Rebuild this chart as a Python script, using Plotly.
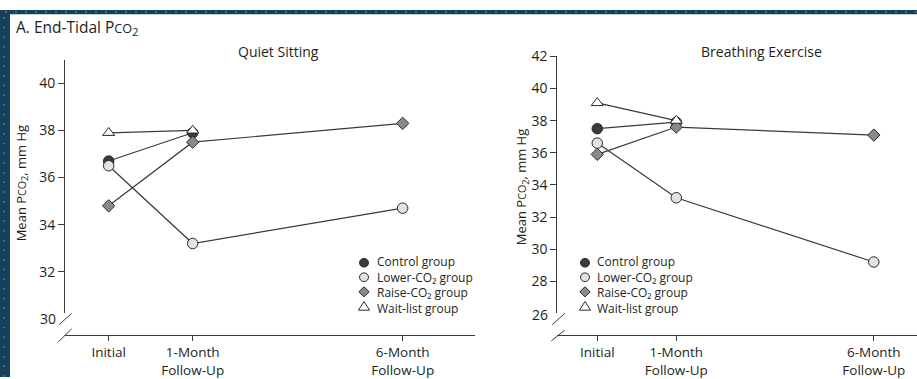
import plotly.graph_objects as go

W, H = 917, 379

# ---- data -------------------------------------------------------------
visits = ["Initial", "1-Month<br>Follow-Up", "6-Month<br>Follow-Up"]
visit_pos = [0, 1, 3.5]          # position of each visit on the time axis

groups = ["Control group", "Lower-CO\u2082 group",
          "Raise-CO\u2082 group", "Wait-list group"]

# Quiet sitting, mean end-tidal PCO2 (mm Hg)
quiet_control = [36.7, 37.9, None]
quiet_lower = [36.5, 33.2, 34.7]
quiet_raise = [34.8, 37.5, 38.3]
quiet_wait = [37.9, 38.0, None]

# Breathing exercise, mean end-tidal PCO2 (mm Hg)
breath_control = [37.5, 37.9, None]
breath_lower = [36.6, 33.2, 29.2]
breath_raise = [35.9, 37.6, 37.1]
breath_wait = [39.1, 38.0, None]

quiet_ticks = [32, 34, 36, 38, 40]
breath_ticks = [28, 30, 32, 34, 36, 38, 40, 42]

# ---- styling ----------------------------------------------------------
FONT = "Open Sans"
INK = "#231f20"
LINE = "#3a3a3a"
symbols = ["circle", "circle", "diamond", "triangle-up"]
fills = ["#3b3b3b", "#e2e2e2", "#8a8a8a", "#ffffff"]
sizes = [10.5, 10.5, 9.5, 10.5]


def px(x):
    return x / W


def py(y):
    return 1 - y / H


fig = go.Figure()

panels = [
    ("x", "y", [quiet_control, quiet_lower, quiet_raise, quiet_wait]),
    ("x2", "y2", [breath_control, breath_lower, breath_raise, breath_wait]),
]

# connecting lines first so every marker sits on top of them
for xa, ya, series in panels:
    for vals in series:
        fig.add_trace(go.Scatter(
            x=visit_pos, y=vals, xaxis=xa, yaxis=ya, mode="lines",
            line=dict(color=LINE, width=1.2), connectgaps=False,
            showlegend=False, hoverinfo="skip"))
for xa, ya, series in panels:
    for name, vals, sym, fc, sz in zip(groups, series, symbols, fills, sizes):
        fig.add_trace(go.Scatter(
            x=visit_pos, y=vals, xaxis=xa, yaxis=ya, mode="markers", name=name,
            marker=dict(symbol=sym, size=sz, color=fc,
                        line=dict(color="#2a2a2a", width=1)),
            showlegend=False))

tick_font = dict(family=FONT, size=14, color=INK)
xaxis_common = dict(
    anchor="free", position=py(335.7), showline=True, linecolor=LINE, linewidth=1,
    ticks="outside", ticklen=5, tickcolor=LINE, tickwidth=1,
    tickvals=visit_pos, ticktext=visits, showgrid=False, zeroline=False,
    tickfont=dict(family=FONT, size=13.5, color=INK), fixedrange=True)
yaxis_common = dict(
    showline=True, linecolor=LINE, linewidth=1, ticks="outside", ticklen=6,
    tickcolor=LINE, tickwidth=1, showgrid=False, zeroline=False,
    tickfont=tick_font, fixedrange=True)

fig.update_layout(
    width=W, height=H, autosize=False,
    margin=dict(l=0, r=0, t=0, b=0),
    paper_bgcolor="white", plot_bgcolor="white",
    font=dict(family=FONT, color=INK),
    xaxis=dict(domain=[px(65), px(475)], range=[-0.520, 4.361], **xaxis_common),
    yaxis=dict(domain=[py(313), py(52)], range=[30.247, 40.974], anchor="x",
               tickvals=quiet_ticks, **yaxis_common),
    xaxis2=dict(domain=[px(557.3), 1.0], range=[-0.506, 4.047], **xaxis_common),
    yaxis2=dict(domain=[py(313), py(47.7)], range=[26.02, 42.01], anchor="x2",
                tickvals=breath_ticks, **yaxis_common),
)

shapes = []
ann = []

# dark frame strips with their dotted texture
FRAME = "#17405e"
DOT = "#6686a0"
shapes.append(dict(type="rect", xref="paper", yref="paper", x0=0, x1=px(10),
                   y0=0, y1=1, fillcolor=FRAME, line=dict(width=0), layer="below"))
shapes.append(dict(type="rect", xref="paper", yref="paper", x0=0, x1=1,
                   y0=py(4.5), y1=1, fillcolor=FRAME, line=dict(width=0), layer="below"))
for yy in range(8, H, 10):
    shapes.append(dict(type="rect", xref="paper", yref="paper",
                       x0=px(3.5), x1=px(5), y0=py(yy + 0.75), y1=py(yy - 0.75),
                       fillcolor=DOT, line=dict(width=0)))
for xx in range(6, W, 10):
    shapes.append(dict(type="rect", xref="paper", yref="paper",
                       x0=px(xx - 0.75), x1=px(xx + 0.75), y0=py(2.75), y1=py(1.25),
                       fillcolor=DOT, line=dict(width=0)))

# axis-break slashes
for (x0, y0, x1, y1) in [(59, 325, 71.7, 313.3), (58.3, 342.7, 71.7, 329.3),
                         (552.3, 325, 564.7, 313.3), (551.3, 341.7, 564.7, 330.7)]:
    shapes.append(dict(type="line", xref="paper", yref="paper",
                       x0=px(x0), y0=py(y0), x1=px(x1), y1=py(y1),
                       line=dict(color=LINE, width=1)))

# lowest tick value sits at the break
ann.append(dict(x=px(57.5), y=py(318.3), text="30", showarrow=False,
                xanchor="right", yanchor="middle", font=tick_font,
                xref="paper", yref="paper"))
ann.append(dict(x=px(549.5), y=py(314), text="26", showarrow=False,
                xanchor="right", yanchor="middle", font=tick_font,
                xref="paper", yref="paper"))

# titles
pco2 = "P<span style='font-size:0.82em'>CO</span><sub>2</sub>"
ann.append(dict(x=px(14), y=py(18), text="A. End-Tidal " + pco2, showarrow=False,
                xanchor="left", yanchor="middle",
                font=dict(family=FONT, size=15.5, color=INK),
                xref="paper", yref="paper"))
ann.append(dict(x=px(278), y=py(43), text="Quiet Sitting", showarrow=False,
                xanchor="center", yanchor="middle",
                font=dict(family=FONT, size=14, color=INK),
                xref="paper", yref="paper"))
ann.append(dict(x=px(761), y=py(43), text="Breathing Exercise", showarrow=False,
                xanchor="center", yanchor="middle",
                font=dict(family=FONT, size=14, color=INK),
                xref="paper", yref="paper"))
for (cx, cy) in [(22, 179), (522, 183)]:
    ann.append(dict(x=px(cx), y=py(cy), text="Mean " + pco2 + ", mm Hg",
                    textangle=-90, showarrow=False, xanchor="center",
                    yanchor="middle", font=dict(family=FONT, size=13, color=INK),
                    xref="paper", yref="paper"))


# hand-set legend boxes (one per panel)
def legend_key(cx, cy, sym, fc):
    r = 4.5
    style = dict(xref="paper", yref="paper", fillcolor=fc,
                 line=dict(color="#2a2a2a", width=1))
    if sym == "circle":
        return dict(type="circle", x0=px(cx - r), x1=px(cx + r),
                    y0=py(cy + r), y1=py(cy - r), **style)
    if sym == "diamond":
        d = 5.2
        pts = [(cx, cy - d), (cx + d, cy), (cx, cy + d), (cx - d, cy)]
    else:
        pts = [(cx, cy - 5), (cx + 5.5, cy + 4), (cx - 5.5, cy + 4)]
    path = "M " + " L ".join(f"{px(a):.6f},{py(b):.6f}" for a, b in pts) + " Z"
    return dict(type="path", path=path, **style)


LEG_SIZE = 12
legend_rows = [261, 276, 291, 306]
legend_text = "<br>".join(groups)
for mx, tx in [(364, 375), (585, 595)]:
    for sym, fc, ry in zip(symbols, fills, legend_rows):
        shapes.append(legend_key(mx, ry, sym, fc))
    ann.append(dict(x=px(tx), y=py((legend_rows[0] + legend_rows[-1]) / 2),
                    text=legend_text, showarrow=False, align="left",
                    xanchor="left", yanchor="middle",
                    font=dict(family=FONT, size=LEG_SIZE, color=INK),
                    xref="paper", yref="paper"))

fig.update_layout(shapes=shapes, annotations=ann)
fig.write_html("out.html")
